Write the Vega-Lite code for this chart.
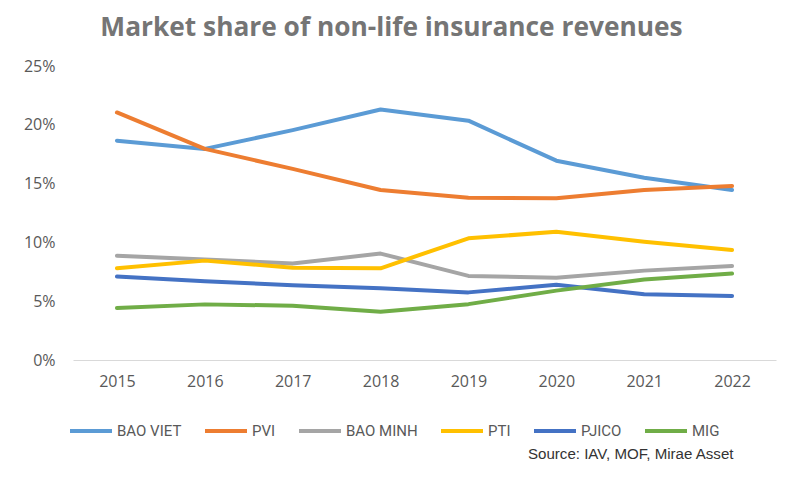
{
  "$schema": "https://vega.github.io/schema/vega-lite/v6.json",
  "width": 703,
  "height": 294,
  "autosize": {"type": "none"},
  "padding": {"left": 73, "top": 66, "right": 12, "bottom": 118},
  "background": "white",
  "config": {
    "view": {"stroke": null},
    "font": "Open Sans"
  },
  "title": {
    "text": "Market share of non-life insurance revenues",
    "font": "Open Sans",
    "fontSize": 26.3,
    "fontWeight": "bold",
    "color": "#757575",
    "anchor": "middle",
    "dx": -33,
    "dy": 34,
    "offset": 30,
    "baseline": "alphabetic"
  },
  "data": {
    "values": [
      {"year": "2015", "insurer": "BAO VIET", "share": 0.1865},
      {"year": "2016", "insurer": "BAO VIET", "share": 0.1795},
      {"year": "2017", "insurer": "BAO VIET", "share": 0.1955},
      {"year": "2018", "insurer": "BAO VIET", "share": 0.213},
      {"year": "2019", "insurer": "BAO VIET", "share": 0.2035},
      {"year": "2020", "insurer": "BAO VIET", "share": 0.1695},
      {"year": "2021", "insurer": "BAO VIET", "share": 0.155},
      {"year": "2022", "insurer": "BAO VIET", "share": 0.1445},
      {"year": "2015", "insurer": "PVI", "share": 0.2105},
      {"year": "2016", "insurer": "PVI", "share": 0.1795},
      {"year": "2017", "insurer": "PVI", "share": 0.1625},
      {"year": "2018", "insurer": "PVI", "share": 0.1445},
      {"year": "2019", "insurer": "PVI", "share": 0.138},
      {"year": "2020", "insurer": "PVI", "share": 0.1375},
      {"year": "2021", "insurer": "PVI", "share": 0.1445},
      {"year": "2022", "insurer": "PVI", "share": 0.148},
      {"year": "2015", "insurer": "BAO MINH", "share": 0.0887},
      {"year": "2016", "insurer": "BAO MINH", "share": 0.0855},
      {"year": "2017", "insurer": "BAO MINH", "share": 0.082},
      {"year": "2018", "insurer": "BAO MINH", "share": 0.0905},
      {"year": "2019", "insurer": "BAO MINH", "share": 0.0715},
      {"year": "2020", "insurer": "BAO MINH", "share": 0.07},
      {"year": "2021", "insurer": "BAO MINH", "share": 0.076},
      {"year": "2022", "insurer": "BAO MINH", "share": 0.08},
      {"year": "2015", "insurer": "PTI", "share": 0.078},
      {"year": "2016", "insurer": "PTI", "share": 0.0845},
      {"year": "2017", "insurer": "PTI", "share": 0.0785},
      {"year": "2018", "insurer": "PTI", "share": 0.078},
      {"year": "2019", "insurer": "PTI", "share": 0.1035},
      {"year": "2020", "insurer": "PTI", "share": 0.109},
      {"year": "2021", "insurer": "PTI", "share": 0.1005},
      {"year": "2022", "insurer": "PTI", "share": 0.0935},
      {"year": "2015", "insurer": "PJICO", "share": 0.071},
      {"year": "2016", "insurer": "PJICO", "share": 0.067},
      {"year": "2017", "insurer": "PJICO", "share": 0.0635},
      {"year": "2018", "insurer": "PJICO", "share": 0.061},
      {"year": "2019", "insurer": "PJICO", "share": 0.0575},
      {"year": "2020", "insurer": "PJICO", "share": 0.064},
      {"year": "2021", "insurer": "PJICO", "share": 0.056},
      {"year": "2022", "insurer": "PJICO", "share": 0.0545},
      {"year": "2015", "insurer": "MIG", "share": 0.0442},
      {"year": "2016", "insurer": "MIG", "share": 0.0473},
      {"year": "2017", "insurer": "MIG", "share": 0.0462},
      {"year": "2018", "insurer": "MIG", "share": 0.041},
      {"year": "2019", "insurer": "MIG", "share": 0.0475},
      {"year": "2020", "insurer": "MIG", "share": 0.059},
      {"year": "2021", "insurer": "MIG", "share": 0.0685},
      {"year": "2022", "insurer": "MIG", "share": 0.0735}
    ]
  },
  "mark": {"type": "line", "strokeWidth": 4, "strokeCap": "round", "strokeJoin": "round"},
  "encoding": {
    "x": {
      "field": "year",
      "type": "ordinal",
      "scale": {"type": "point", "padding": 0.5},
      "axis": {
        "title": "Source: IAV, MOF, Mirae Asset",
        "titleFont": "Liberation Sans",
        "titleFontSize": 15.1,
        "titleFontWeight": "normal",
        "titleColor": "#333333",
        "titleAnchor": "end",
        "titleAlign": "right",
        "titleX": 660,
        "titleY": 98,
        "titleBaseline": "alphabetic",
        "labelAngle": 0,
        "labelFont": "Open Sans",
        "labelFontSize": 16,
        "labelColor": "#595959",
        "labelPadding": 13,
        "ticks": false,
        "domainColor": "#d9d9d9",
        "domainWidth": 1.2,
        "grid": false
      }
    },
    "y": {
      "field": "share",
      "type": "quantitative",
      "scale": {"domain": [0, 0.25]},
      "axis": {
        "title": null,
        "values": [0, 0.05, 0.1, 0.15, 0.2, 0.25],
        "format": ".0%",
        "labelFont": "Open Sans",
        "labelFontSize": 16,
        "labelColor": "#595959",
        "labelPadding": 18,
        "ticks": false,
        "domain": false,
        "grid": false
      }
    },
    "color": {
      "field": "insurer",
      "type": "nominal",
      "sort": ["BAO VIET", "PVI", "BAO MINH", "PTI", "PJICO", "MIG"],
      "scale": {
        "domain": ["BAO VIET", "PVI", "BAO MINH", "PTI", "PJICO", "MIG"],
        "range": ["#5b9bd5", "#ed7d31", "#a5a5a5", "#ffc000", "#4472c4", "#70ad47"]
      },
      "legend": {
        "title": null,
        "orient": "none",
        "direction": "horizontal",
        "legendX": -5,
        "legendY": 342,
        "symbolType": "stroke",
        "symbolStrokeWidth": 4,
        "symbolSize": 1764,
        "labelFont": "Roboto",
        "labelFontSize": 15,
        "labelColor": "#595959",
        "labelOffset": 3,
        "columnPadding": 15
      }
    }
  }
}
